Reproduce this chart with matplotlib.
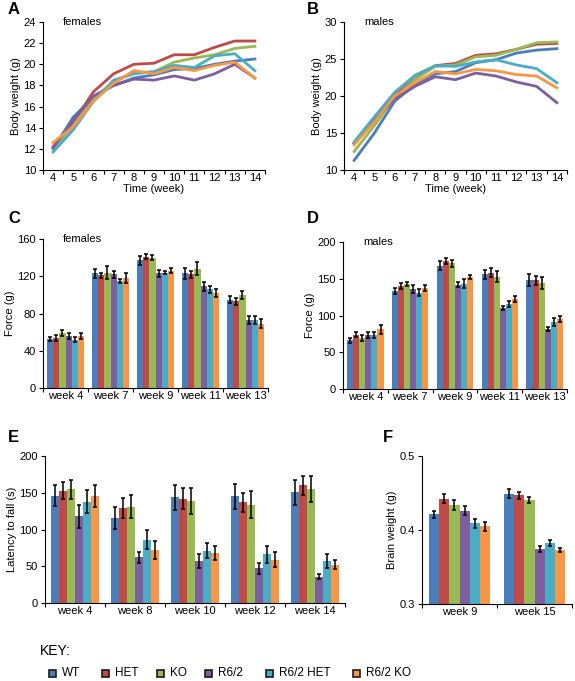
import matplotlib
matplotlib.use("Agg")
import matplotlib.pyplot as plt
import numpy as np

plt.rcParams['font.family'] = ['Liberation Sans', 'DejaVu Sans']
plt.rcParams['font.size'] = 8

W, H = 575, 681

genotypes = ["WT", "HET", "KO", "R6/2", "R6/2 HET", "R6/2 KO"]
colors = ["#4a7ebb", "#be4b48", "#98b954", "#7d5fa0", "#4bacc6", "#f79646"]

# body weight, weeks 4..14
weeks = [4, 5, 6, 7, 8, 9, 10, 11, 12, 13, 14]
bw_females = [
    [12.0, 15.0, 16.9, 18.0, 18.7, 19.0, 19.5, 19.6, 20.0, 20.3, 20.5],
    [12.2, 14.5, 17.4, 19.1, 20.0, 20.1, 20.9, 20.9, 21.6, 22.2, 22.2],
    [12.0, 14.2, 16.8, 18.3, 19.2, 19.3, 20.2, 20.6, 20.9, 21.5, 21.7],
    [12.1, 14.7, 17.0, 18.0, 18.6, 18.5, 18.9, 18.5, 19.1, 20.0, 18.7],
    [11.7, 13.8, 16.5, 18.5, 19.1, 19.3, 19.9, 19.7, 20.8, 21.0, 19.4],
    [12.6, 14.1, 16.5, 18.2, 19.4, 19.1, 19.7, 19.4, 19.9, 20.2, 18.7],
]
bw_males = [
    [11.3, 15.0, 19.3, 21.5, 23.0, 23.3, 24.5, 24.9, 25.8, 26.2, 26.4],
    [13.6, 16.8, 20.1, 22.3, 24.1, 24.4, 25.5, 25.7, 26.3, 27.0, 27.1],
    [12.5, 16.0, 19.8, 22.2, 24.0, 24.2, 25.3, 25.5, 26.3, 27.2, 27.3],
    [13.6, 16.8, 19.6, 21.3, 22.6, 22.2, 23.1, 22.7, 21.9, 21.3, 19.1],
    [13.8, 17.2, 20.5, 22.8, 24.1, 24.0, 24.6, 24.9, 24.2, 23.7, 21.8],
    [13.4, 16.5, 20.0, 21.8, 23.3, 23.0, 23.6, 23.4, 22.9, 22.7, 21.1],
]

# grip force, rows = weeks, cols = genotypes
force_weeks = ["week 4", "week 7", "week 9", "week 11", "week 13"]
force_f = [[53, 54, 59, 56, 52, 56],
           [123, 121, 124, 122, 115, 118],
           [137, 141, 140, 123, 124, 126],
           [123, 122, 128, 109, 106, 102],
           [95, 93, 100, 73, 73, 69]]
force_f_err = [[2, 3, 3, 3, 3, 3],
               [5, 3, 7, 4, 2, 5],
               [5, 3, 3, 4, 2, 3],
               [6, 4, 7, 5, 4, 4],
               [4, 4, 4, 4, 4, 5]]
force_m = [[66, 74, 69, 73, 73, 81],
           [133, 140, 143, 136, 131, 138],
           [168, 174, 171, 142, 143, 152],
           [156, 158, 153, 110, 116, 123],
           [148, 148, 144, 82, 91, 95]]
force_m_err = [[3, 3, 4, 4, 4, 6],
               [4, 4, 3, 5, 5, 4],
               [6, 4, 5, 3, 6, 3],
               [6, 6, 8, 3, 4, 4],
               [8, 6, 8, 3, 5, 4]]

# rotarod
rota_weeks = ["week 4", "week 8", "week 10", "week 12", "week 14"]
rota = [[146, 153, 155, 118, 138, 146],
        [116, 129, 131, 62, 86, 72],
        [144, 142, 139, 57, 71, 68],
        [145, 137, 134, 47, 66, 59],
        [151, 160, 155, 36, 57, 52]]
rota_err = [[14, 12, 13, 16, 16, 15],
            [15, 14, 16, 8, 13, 12],
            [17, 14, 18, 10, 10, 10],
            [17, 13, 19, 8, 11, 10],
            [17, 13, 18, 3, 9, 6]]

# brain weight
brain_weeks = ["week 9", "week 15"]
brain = [[0.421, 0.442, 0.434, 0.426, 0.409, 0.405],
         [0.449, 0.447, 0.441, 0.374, 0.382, 0.373]]
brain_err = [[0.005, 0.006, 0.007, 0.006, 0.006, 0.006],
             [0.006, 0.005, 0.004, 0.004, 0.004, 0.003]]

fig = plt.figure(figsize=(W / 100, H / 100), dpi=100)


def add_ax(left, top, right, bottom):
    ax = fig.add_axes([left / W, 1 - bottom / H, (right - left) / W, (bottom - top) / H])
    for s in ["top", "right"]:
        ax.spines[s].set_visible(False)
    for s in ["left", "bottom"]:
        ax.spines[s].set_linewidth(0.8)
    ax.tick_params(direction="out", length=3, width=0.8, pad=2, labelsize=8)
    return ax


def category_ticks(ax, n):
    ax.set_xlim(-0.5, n - 0.5)
    ax.set_xticks(np.arange(n))
    ax.tick_params(axis="x", which="major", length=0)
    ax.set_xticks(np.arange(n + 1) - 0.5, minor=True)
    ax.tick_params(axis="x", which="minor", direction="out", length=3, width=0.8)


def line_panel(ax, data, ylim, yticks):
    for i, series in enumerate(data):
        ax.plot(weeks, series, color=colors[i], lw=2)
    ax.set_xlim(3.5, 14.5)
    ax.set_xticks(weeks)
    ax.tick_params(axis="x", which="major", length=0)
    ax.set_xticks(np.arange(3.5, 15, 1), minor=True)
    ax.tick_params(axis="x", which="minor", direction="out", length=3, width=0.8)
    ax.set_ylim(*ylim)
    ax.set_yticks(yticks)
    ax.set_ylabel("Body weight (g)", labelpad=2)
    ax.set_xlabel("Time (week)", labelpad=1)


def bar_panel(ax, labels, vals, errs, ylim, yticks, ylabel):
    n = len(labels)
    bw = 0.135
    x = np.arange(n)
    vals = np.array(vals)
    errs = np.array(errs)
    for j in range(6):
        pos = x + (j - 2.5) * bw
        ax.bar(pos, vals[:, j], bw, color=colors[j], edgecolor="none", zorder=2)
        ax.errorbar(pos, vals[:, j], yerr=errs[:, j], fmt="none", ecolor="black",
                    elinewidth=1.1, capsize=1.6, capthick=1.1, zorder=3)
    category_ticks(ax, n)
    ax.set_xticklabels(labels)
    ax.set_ylim(*ylim)
    ax.set_yticks(yticks)
    ax.set_ylabel(ylabel, labelpad=2)


# A
axA = add_ax(43, 22, 265, 170)
line_panel(axA, bw_females, (10, 24), [10, 12, 14, 16, 18, 20, 22, 24])
axA.text(0.09, 1.0, "females", transform=axA.transAxes, va="center", fontsize=8)

# B
axB = add_ax(344, 22, 567, 170)
line_panel(axB, bw_males, (10, 30), [10, 15, 20, 25, 30])
axB.text(0.09, 1.0, "males", transform=axB.transAxes, va="center", fontsize=8)

# C
axC = add_ax(43, 239, 268, 388)
bar_panel(axC, force_weeks, force_f, force_f_err, (0, 160), [0, 40, 80, 120, 160], "Force (g)")
axC.text(0.09, 1.0, "females", transform=axC.transAxes, va="center", fontsize=8)

# D
axD = add_ax(343, 242, 567, 389)
bar_panel(axD, force_weeks, force_m, force_m_err, (0, 200), [0, 50, 100, 150, 200], "Force (g)")
axD.text(0.09, 1.0, "males", transform=axD.transAxes, va="center", fontsize=8)

# E
axE = add_ax(45, 456, 345, 603)
bar_panel(axE, rota_weeks, rota, rota_err, (0, 200), [0, 50, 100, 150, 200], "Latency to fall (s)")

# F
axF = add_ax(422, 456, 572, 604)
bar_panel(axF, brain_weeks, brain, brain_err, (0.3, 0.5), [0.3, 0.4, 0.5], "Brain weight (g)")
axF.set_yticklabels(["0.3", "0.4", "0.5"])

# panel letters
for letter, (px, py) in {"A": (8, 10), "B": (307, 10), "C": (8, 218),
                         "D": (307, 218), "E": (8, 437), "F": (383, 437)}.items():
    fig.text(px / W, 1 - py / H, letter, fontsize=12, fontweight="bold", va="center", ha="left")

# key
fig.text(40 / W, 1 - 651 / H, "KEY:", fontsize=10, va="center")
key_x = [52, 105, 160, 208, 269, 356]
for j, name in enumerate(genotypes):
    fig.patches.append(plt.Rectangle(((key_x[j] - 3.5) / W, 1 - (673 + 3.5) / H), 7 / W, 7 / H,
                                     facecolor=colors[j], edgecolor="#1a1a1a", lw=1.2,
                                     transform=fig.transFigure, figure=fig))
    fig.text((key_x[j] + 10) / W, 1 - 673 / H, name, fontsize=8.5, va="center")

fig.savefig("out.png", dpi=100)
